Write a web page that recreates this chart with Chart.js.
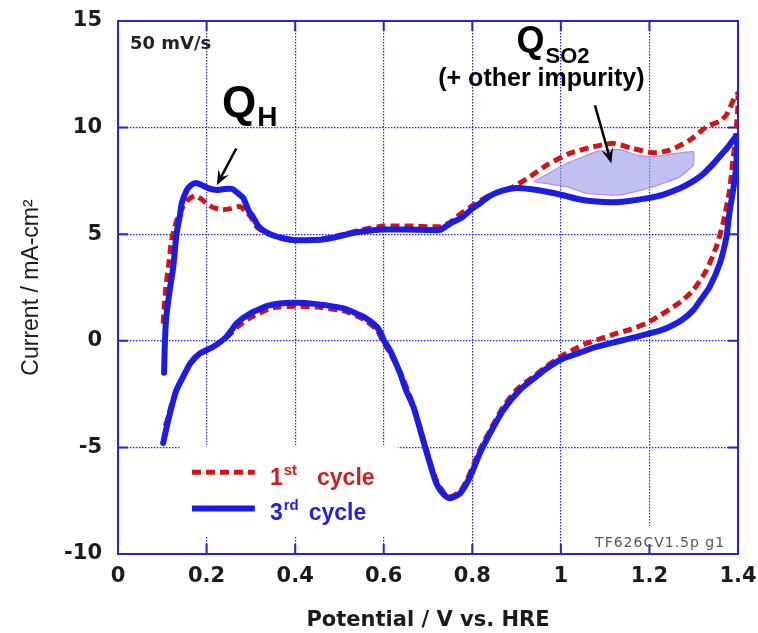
<!DOCTYPE html>
<html>
<head>
<meta charset="utf-8">
<script src="https://cdn.jsdelivr.net/npm/chart.js@4/dist/chart.umd.min.js"></script>
<style>
  html, body { margin: 0; padding: 0; background: #fff; }
  #wrap { width: 758px; height: 633px; position: relative; }
</style>
</head>
<body>
<div id="wrap"><canvas id="cv"></canvas></div>
<script>
/* CV of Pt electrode, 1st vs 3rd cycle, 50 mV/s */

// 3rd cycle: anodic sweep 0.1 -> 1.4 V, then cathodic back to 0.1 V
const potential3rd = [
  0.104, 0.106, 0.109, 0.117, 0.125, 0.132, 0.140, 0.144, 0.155, 0.165, 0.176, 0.190,
  0.205, 0.223, 0.240, 0.258, 0.272, 0.283, 0.295, 0.305, 0.318, 0.330, 0.350, 0.375,
  0.400, 0.430, 0.463, 0.500, 0.524, 0.560, 0.600, 0.650, 0.700, 0.727, 0.750, 0.779,
  0.800, 0.817, 0.840, 0.870, 0.900, 0.930, 0.968, 1.000, 1.043, 1.080, 1.118, 1.150,
  1.193, 1.230, 1.269, 1.300, 1.320, 1.344, 1.365, 1.380, 1.390, 1.398,
  1.395, 1.389, 1.380, 1.374, 1.359, 1.336, 1.315, 1.299, 1.275, 1.246, 1.220, 1.186,
  1.150, 1.111, 1.070, 1.039, 1.000, 0.968, 0.940, 0.907, 0.870, 0.840, 0.817, 0.795,
  0.772, 0.749, 0.735, 0.719, 0.705, 0.689, 0.667, 0.650, 0.637, 0.614, 0.600, 0.595,
  0.584, 0.554, 0.509, 0.448, 0.396, 0.343, 0.298, 0.268, 0.245, 0.215, 0.185, 0.163,
  0.147, 0.132, 0.121, 0.110, 0.102
];
const current3rd = [
  -1.5, 0.0, 1.1, 2.4, 3.5, 5.0, 5.9, 6.45, 7.05, 7.3, 7.4, 7.3,
  7.15, 7.07, 7.12, 7.12, 6.9, 6.7, 6.1, 5.8, 5.35, 5.15, 4.95, 4.8,
  4.72, 4.72, 4.75, 4.9, 5.03, 5.15, 5.22, 5.22, 5.2, 5.2, 5.5, 5.82,
  6.2, 6.44, 6.8, 7.05, 7.17, 7.12, 6.99, 6.85, 6.63, 6.53, 6.5, 6.55,
  6.68, 6.85, 7.15, 7.5, 7.8, 8.3, 8.8, 9.15, 9.45, 9.6,
  8.0, 7.07, 5.9, 4.88, 3.63, 2.53, 1.9, 1.44, 1.0, 0.66, 0.45, 0.27,
  0.08, -0.12, -0.35, -0.59, -0.88, -1.3, -1.75, -2.31, -3.25, -4.34, -5.28, -6.38,
  -7.16, -7.39, -7.2, -6.69, -5.8, -4.66, -3.1, -2.3, -1.53, -0.44, 0.03, 0.3,
  0.66, 1.13, 1.52, 1.72, 1.78, 1.67, 1.28, 0.82, 0.19, -0.28, -0.59, -1.06,
  -1.69, -2.31, -3.1, -4.03, -4.8
];

// 1st cycle
const potential1st = [
  0.102, 0.104, 0.108, 0.114, 0.121, 0.132, 0.147, 0.160, 0.174, 0.188, 0.200, 0.215,
  0.235, 0.255, 0.275, 0.290, 0.300, 0.313, 0.336, 0.370, 0.400, 0.450, 0.500, 0.550,
  0.600, 0.667, 0.727, 0.750, 0.765, 0.802, 0.840, 0.870, 0.892, 0.930, 0.968, 1.020,
  1.073, 1.118, 1.163, 1.208, 1.246, 1.291, 1.329, 1.359, 1.374, 1.393, 1.400,
  1.400, 1.396, 1.393, 1.389, 1.381, 1.366, 1.351, 1.329, 1.299, 1.275, 1.254, 1.225,
  1.193, 1.160, 1.126, 1.090, 1.058, 1.030, 0.998, 0.968, 0.930, 0.900, 0.870, 0.840,
  0.815, 0.795, 0.775, 0.755, 0.740, 0.720, 0.705, 0.688, 0.668, 0.640, 0.615, 0.600,
  0.585, 0.555, 0.510, 0.450, 0.400, 0.350, 0.300, 0.270, 0.245, 0.215, 0.185, 0.163,
  0.147, 0.132, 0.121, 0.110, 0.103
];
const current1st = [
  0.8, 1.5, 2.5, 3.47, 4.72, 5.6, 6.3, 6.65, 6.8, 6.65, 6.44, 6.25,
  6.15, 6.2, 6.3, 6.05, 5.8, 5.35, 5.04, 4.8, 4.72, 4.75, 4.95, 5.2,
  5.38, 5.38, 5.35, 5.55, 5.82, 6.36, 6.83, 7.05, 7.22, 7.69, 8.24, 8.79,
  9.1, 9.26, 9.02, 8.82, 8.94, 9.41, 10.04, 10.3, 10.6, 11.44, 11.6,
  11.0, 10.0, 9.2, 8.6, 7.07, 5.5, 4.41, 3.32, 2.38, 1.9, 1.59, 1.2,
  0.82, 0.55, 0.35, 0.1, -0.12, -0.4, -0.75, -1.2, -1.8, -2.3, -3.1, -4.2,
  -5.2, -6.2, -7.0, -7.3, -7.25, -6.6, -5.7, -4.5, -3.1, -1.6, -0.6, -0.1,
  0.5, 1.0, 1.4, 1.58, 1.62, 1.55, 1.1, 0.65, 0.15, -0.3, -0.6, -1.1,
  -1.7, -2.3, -3.0, -3.8, -4.2
];

// shaded Q_SO2 area (outline, closed)
const shadeX = [0.938, 1.013, 1.081, 1.133, 1.171, 1.208, 1.299, 1.299, 1.269, 1.208, 1.133, 1.058, 1.013, 0.938];
const shadeY = [7.46, 8.32, 8.87, 8.98, 8.71, 8.63, 8.87, 8.24, 7.69, 7.22, 6.83, 6.91, 7.22, 7.46];

const xTickValues = [0, 0.2, 0.4, 0.6, 0.8, 1.0, 1.2, 1.4];
const xTickLabels = ['0', '0.2', '0.4', '0.6', '0.8', '1', '1.2', '1.4'];
const yTickValues = [-10, -5, 0, 5, 10, 15];
const yTickLabels = ['-10', '-5', '0', '5', '10', '15'];

const legendLabels = [['1', 'st', 'cycle'], ['3', 'rd', 'cycle']];

const RED = '#cf1616';
const BLUE = '#1c1ce2';
const AXIS = '#2424dc';
const GRID = 'rgba(35,35,235,1)';
const INK = '#1b1b1b';

const pts = (xs, ys) => xs.map((x, i) => ({ x: x, y: ys[i] }));

const notes = {
  id: 'notes',
  beforeDatasetsDraw(chart) {
    const { ctx, chartArea: a, scales: { x, y } } = chart;
    ctx.save();
    // white boxes under the legend and the run label (they hide the grid)
    ctx.fillStyle = '#fff';
    const bx0 = x.getPixelForValue(0.14), bx1 = x.getPixelForValue(0.632);
    const by0 = y.getPixelForValue(-4.89), by1 = y.getPixelForValue(-9.2);
    ctx.fillRect(bx0, by0, bx1 - bx0, by1 - by0);
    const rx0 = x.getPixelForValue(1.064), ry0 = y.getPixelForValue(-8.7);
    ctx.fillRect(rx0, ry0, a.right - rx0 - 2, a.bottom - ry0 - 2);
    // short inward ticks on all four sides
    ctx.strokeStyle = AXIS; ctx.lineWidth = 2;
    ctx.beginPath();
    xTickValues.forEach(v => {
      const px = x.getPixelForValue(v);
      ctx.moveTo(px, a.bottom); ctx.lineTo(px, a.bottom - 10);
      ctx.moveTo(px, a.top); ctx.lineTo(px, a.top + 10);
    });
    yTickValues.forEach(v => {
      const py = y.getPixelForValue(v);
      ctx.moveTo(a.left, py); ctx.lineTo(a.left + 10, py);
      ctx.moveTo(a.right, py); ctx.lineTo(a.right - 10, py);
    });
    ctx.stroke();
    ctx.restore();
  },
  afterDatasetsDraw(chart) {
    const { ctx, chartArea: a, scales: { x, y } } = chart;
    const X = v => x.getPixelForValue(v), Y = v => y.getPixelForValue(v);
    ctx.save();
    // frame
    ctx.strokeStyle = AXIS; ctx.lineWidth = 2;
    ctx.strokeRect(a.left, a.top, a.right - a.left, a.bottom - a.top);

    // legend
    const rows = [
      { color: RED, text: '#cc2020', dash: [9, 5], w: 5, lineY: -6.17, textY: -6.77, gap: 20 },
      { color: BLUE, text: '#2222d6', dash: [], w: 6, lineY: -7.86, textY: -8.41, gap: 10 },
    ];
    rows.forEach((r, i) => {
      ctx.strokeStyle = r.color; ctx.lineWidth = r.w; ctx.setLineDash(r.dash);
      ctx.beginPath(); ctx.moveTo(X(0.167), Y(r.lineY)); ctx.lineTo(X(0.309), Y(r.lineY)); ctx.stroke();
      ctx.setLineDash([]);
      const [num, sup, word] = legendLabels[i];
      let tx = X(0.343); const ty = Y(r.textY);
      ctx.fillStyle = r.text; ctx.textBaseline = 'alphabetic'; ctx.textAlign = 'left';
      ctx.font = 'bold 23px "Liberation Sans"';
      ctx.fillText(num, tx, ty); tx += ctx.measureText(num).width + 1;
      ctx.font = 'bold 15px "Liberation Sans"';
      ctx.fillText(sup, tx, ty - 10); tx += ctx.measureText(sup).width + r.gap;
      ctx.font = 'bold 23px "Liberation Sans"';
      ctx.fillText(word, tx, ty);
    });

    // scan rate and run label
    ctx.fillStyle = '#222';
    ctx.font = 'bold 18px "DejaVu Sans"';
    ctx.fillText('50 mV/s', X(0.027), Y(13.68));
    ctx.fillStyle = '#555';
    ctx.font = '14px "DejaVu Sans"';
    ctx.letterSpacing = '1px';
    ctx.textAlign = 'right';
    ctx.fillText('TF626CV1.5p g1', X(1.371), Y(-9.68));
    ctx.letterSpacing = '0px';
    ctx.textAlign = 'left';

    // Q_H
    ctx.fillStyle = '#000';
    ctx.font = 'bold 44px "Liberation Sans"';
    let qx = X(0.235);
    ctx.fillText('Q', qx, Y(10.49));
    qx += ctx.measureText('Q').width + 1;
    ctx.font = 'bold 28px "Liberation Sans"';
    ctx.fillText('H', qx, Y(10.49) + 9);

    // Q_SO2
    ctx.font = 'bold 36px "Liberation Sans"';
    qx = X(0.9);
    ctx.fillText('Q', qx, Y(13.54));
    qx += ctx.measureText('Q').width + 1;
    ctx.font = 'bold 22px "Liberation Sans"';
    ctx.fillText('SO2', qx, Y(13.54) + 11);
    ctx.font = 'bold 25px "Liberation Sans"';
    ctx.textAlign = 'center';
    ctx.fillText('(+ other impurity)', X(0.956), Y(11.95));

    // arrows
    const arrow = (x0, y0, x1, y1) => {
      const p0 = [X(x0), Y(y0)], p1 = [X(x1), Y(y1)];
      const ang = Math.atan2(p1[1] - p0[1], p1[0] - p0[0]);
      const L = 15, W = 6, c = Math.cos(ang), s = Math.sin(ang);
      ctx.strokeStyle = '#000'; ctx.lineWidth = 2.5;
      ctx.beginPath(); ctx.moveTo(p0[0], p0[1]); ctx.lineTo(p1[0] - 8 * c, p1[1] - 8 * s); ctx.stroke();
      ctx.beginPath();
      ctx.moveTo(p1[0], p1[1]);
      ctx.lineTo(p1[0] - L * c + W * s, p1[1] - L * s - W * c);
      ctx.lineTo(p1[0] - 0.6 * L * c, p1[1] - 0.6 * L * s);
      ctx.lineTo(p1[0] - L * c - W * s, p1[1] - L * s + W * c);
      ctx.closePath(); ctx.fill();
    };
    arrow(0.267, 9.02, 0.223, 7.30);
    arrow(1.077, 11.05, 1.114, 8.32);
    ctx.restore();
  }
};

new Chart(document.getElementById('cv'), {
  type: 'line',
  data: {
    datasets: [
      { label: '3rd cycle', data: pts(potential3rd, current3rd), borderColor: BLUE, borderWidth: 6,
        pointRadius: 0, tension: 0.2, fill: false, order: 1, borderCapStyle: 'round', borderJoinStyle: 'round' },
      { label: '1st cycle', data: pts(potential1st, current1st), borderColor: RED, borderWidth: 5,
        borderDash: [9, 5], pointRadius: 0, tension: 0.2, fill: false, order: 2 },
      { label: 'Q_SO2', data: pts(shadeX, shadeY), borderColor: 'rgba(190,130,220,0.9)', borderWidth: 1.2,
        backgroundColor: 'rgba(150,150,232,0.6)', pointRadius: 0, tension: 0.12, fill: 'shape', order: 3 },
    ]
  },
  options: {
    responsive: true, maintainAspectRatio: false, animation: false,
    layout: { padding: { top: 21, right: 20, left: 0, bottom: 0 } },
    plugins: { legend: { display: false }, tooltip: { enabled: false } },
    scales: {
      x: {
        type: 'linear', min: 0, max: 1.4,
        afterBuildTicks: s => { s.ticks = xTickValues.map(v => ({ value: v })); },
        afterFit: s => { s.height = 79; s.paddingLeft = 0; s.paddingRight = 0; },
        ticks: { callback: (v, i) => xTickLabels[i], color: INK, padding: 10, maxRotation: 0, autoSkip: false,
                 font: { family: '"DejaVu Sans"', size: 21, weight: 'bold' } },
        grid: { color: GRID, lineWidth: 1.2, drawTicks: false },
        border: { display: false, dash: [1.5, 1.5] },
        title: { display: true, text: 'Potential / V vs. HRE', color: INK, padding: { top: 0, bottom: 0 },
                 font: { family: '"DejaVu Sans"', size: 21, weight: 'bold' } },
      },
      y: {
        type: 'linear', min: -10, max: 15,
        afterBuildTicks: s => { s.ticks = yTickValues.map(v => ({ value: v })); },
        afterFit: s => { s.width = 118; s.paddingTop = 0; s.paddingBottom = 0; },
        ticks: { callback: (v, i) => yTickLabels[i], color: INK, padding: 16, autoSkip: false,
                 font: { family: '"DejaVu Sans"', size: 21, weight: 'bold' } },
        grid: { color: GRID, lineWidth: 1.2, drawTicks: false },
        border: { display: false, dash: [1.5, 1.5] },
        title: { display: true, text: 'Current / mA-cm²', color: INK, padding: { top: 18, bottom: 0 },
                 font: { family: '"Liberation Sans"', size: 23, weight: 'normal' } },
      },
    },
  },
  plugins: [notes],
});
</script>
</body>
</html>
